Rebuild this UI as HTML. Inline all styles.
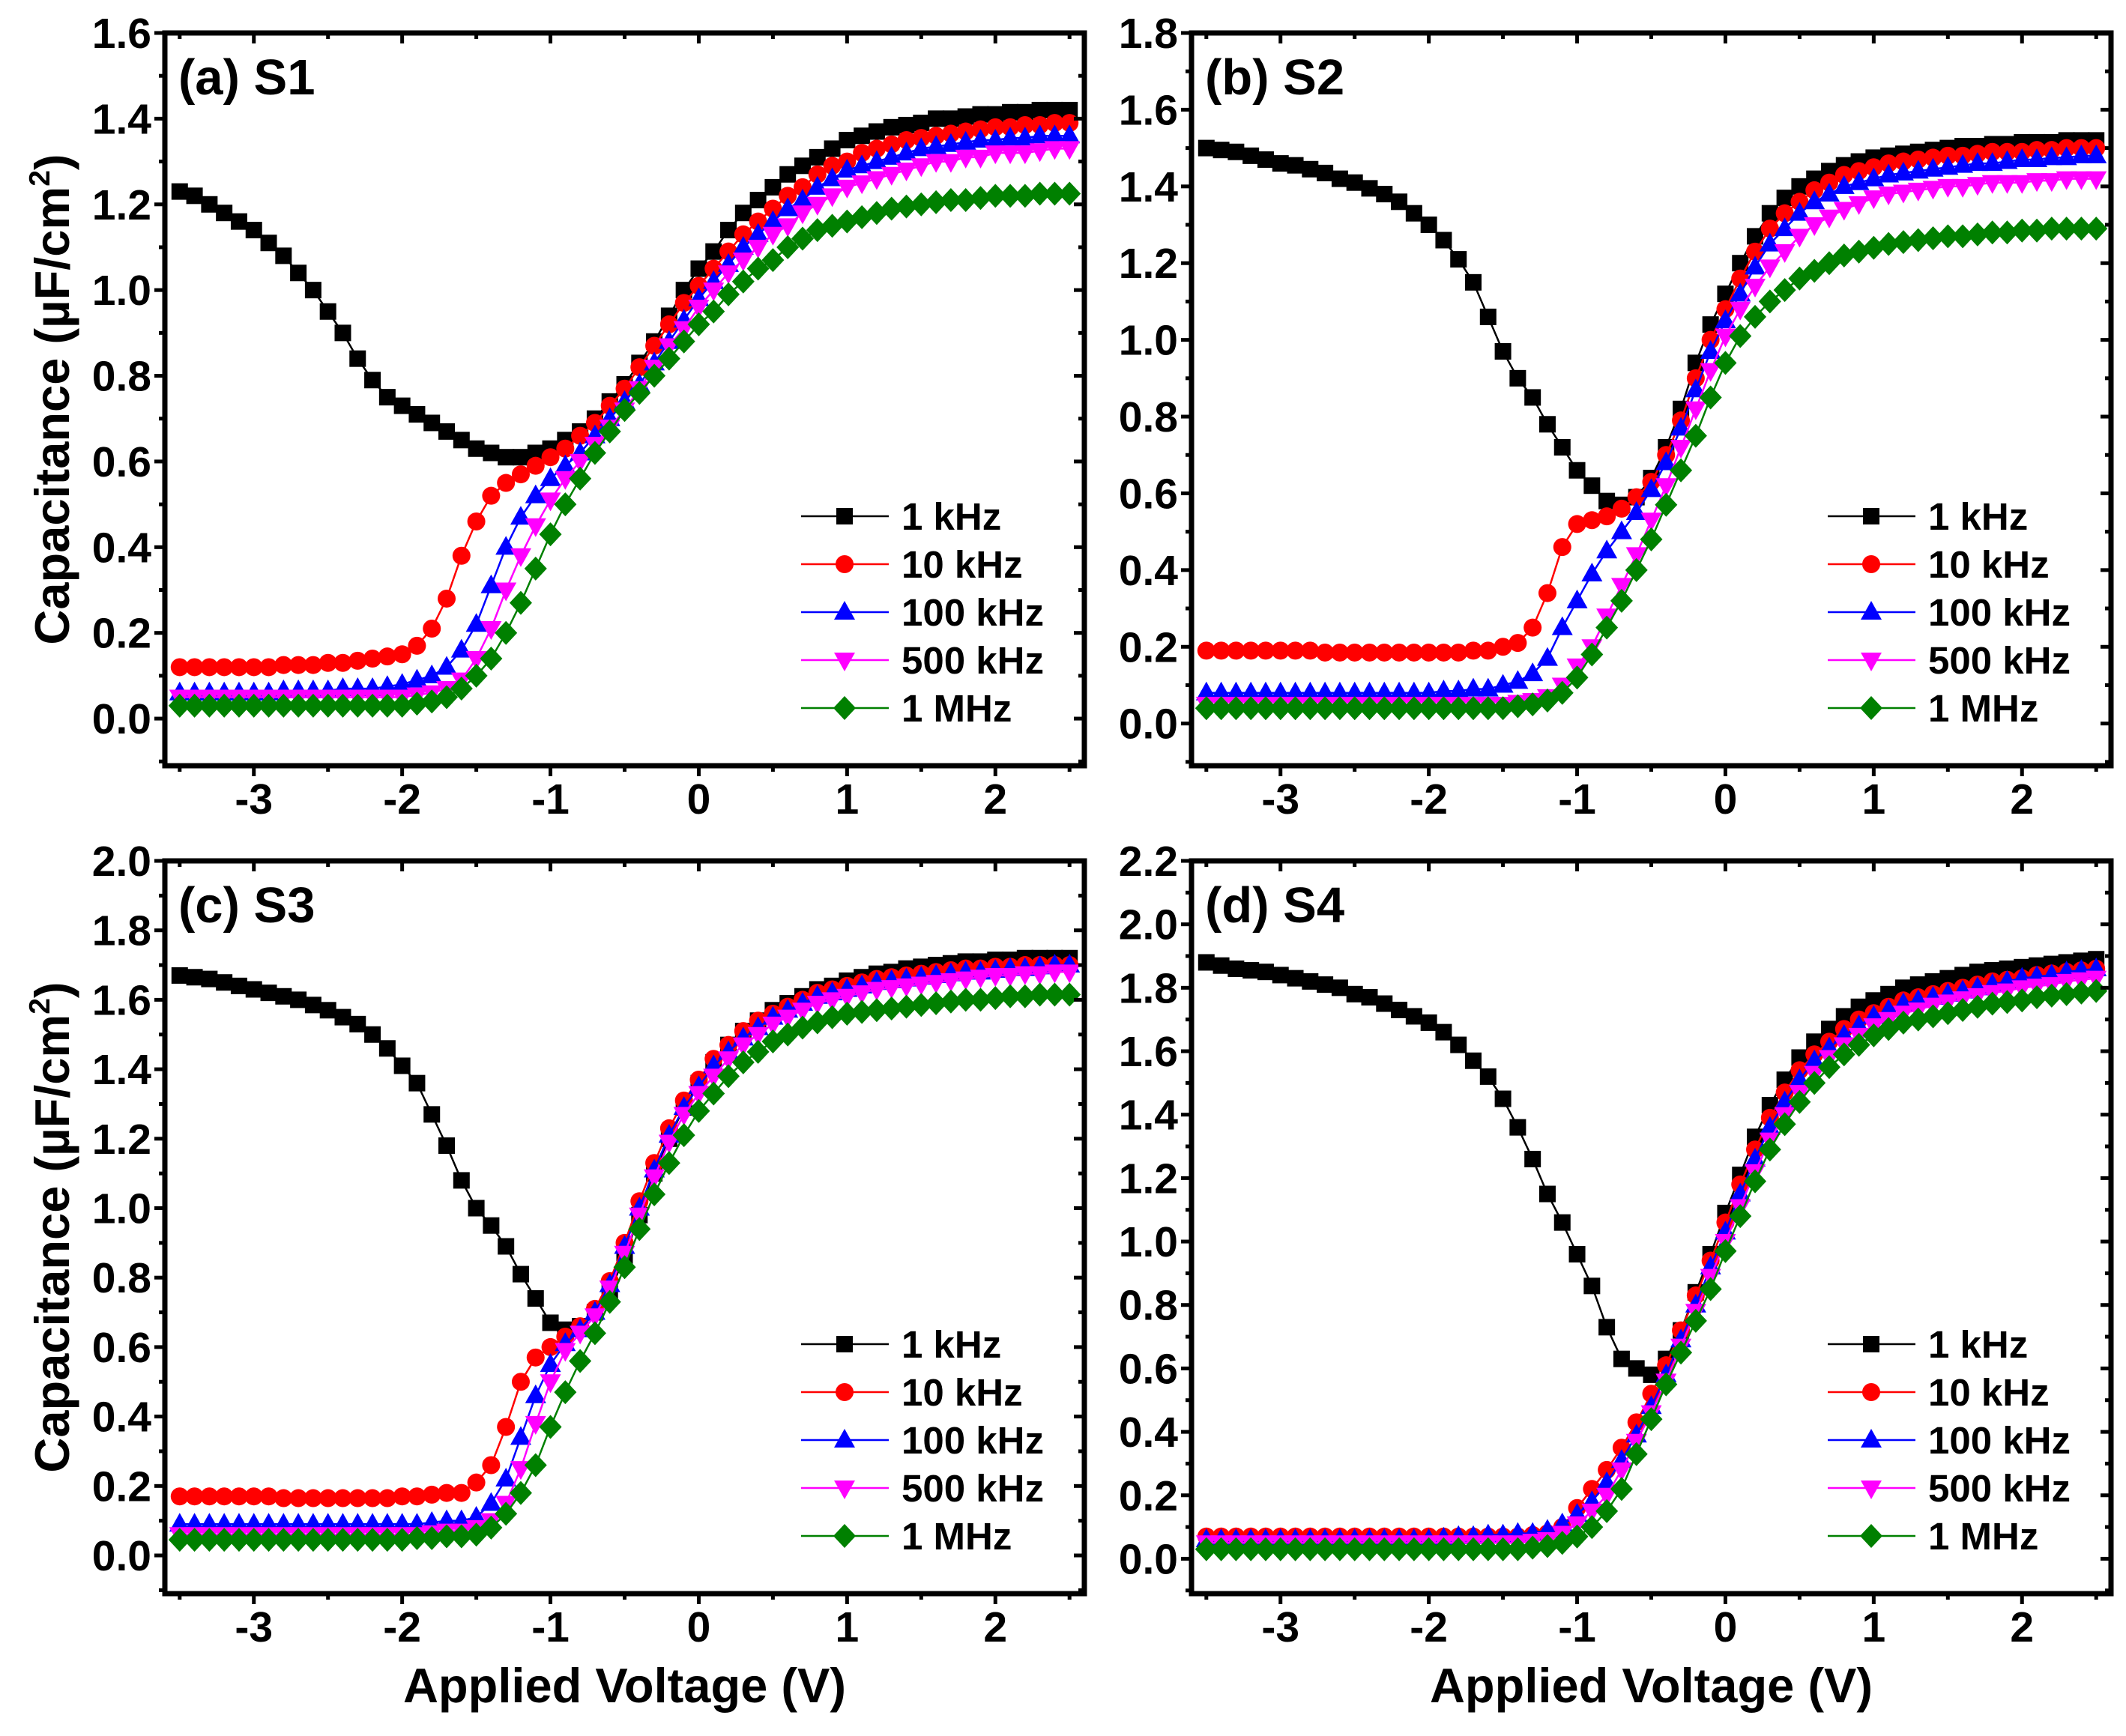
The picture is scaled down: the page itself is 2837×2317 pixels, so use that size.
<!DOCTYPE html>
<html><head><meta charset="utf-8"><style>
html,body{margin:0;padding:0;background:#fff;}
svg{display:block;}
text{font-family:"Liberation Sans",Arial,sans-serif;font-weight:bold;fill:#000;}
</style></head>
<body>
<svg id="chart" width="2837" height="2317" viewBox="0 0 2837 2317" xmlns="http://www.w3.org/2000/svg"></svg>
<script>
const voltages=[-3.5,-3.4,-3.3,-3.2,-3.1,-3.0,-2.9,-2.8,-2.7,-2.6,-2.5,-2.4,-2.3,-2.2,-2.1,-2.0,-1.9,-1.8,-1.7,-1.6,-1.5,-1.4,-1.3,-1.2,-1.1,-1.0,-0.9,-0.8,-0.7,-0.6,-0.5,-0.4,-0.3,-0.2,-0.1,0.0,0.1,0.2,0.3,0.4,0.5,0.6,0.7,0.8,0.9,1.0,1.1,1.2,1.3,1.4,1.5,1.6,1.7,1.8,1.9,2.0,2.1,2.2,2.3,2.4,2.5];
const seriesNames=["1 kHz","10 kHz","100 kHz","500 kHz","1 MHz"];
const xTicks=[-3,-2,-1,0,1,2];
const panelLabels=["(a) S1","(b) S2","(c) S3","(d) S4"];
const panelYMax=[1.6,1.8,2.0,2.2];

const a1k=[1.23,1.22,1.20,1.18,1.16,1.14,1.11,1.08,1.04,1.00,0.95,0.90,0.84,0.79,0.75,0.73,0.71,0.69,0.67,0.65,0.63,0.62,0.61,0.61,0.62,0.63,0.65,0.67,0.70,0.74,0.78,0.83,0.88,0.94,1.00,1.05,1.09,1.14,1.18,1.21,1.24,1.27,1.29,1.31,1.33,1.35,1.36,1.37,1.38,1.385,1.39,1.40,1.40,1.405,1.41,1.41,1.415,1.415,1.42,1.42,1.42];
const a10k=[0.12,0.12,0.12,0.12,0.12,0.12,0.12,0.125,0.125,0.125,0.13,0.13,0.135,0.14,0.145,0.15,0.17,0.21,0.28,0.38,0.46,0.52,0.55,0.57,0.59,0.61,0.63,0.66,0.69,0.73,0.77,0.82,0.87,0.92,0.97,1.01,1.05,1.09,1.13,1.16,1.19,1.22,1.24,1.27,1.29,1.30,1.32,1.33,1.34,1.35,1.355,1.36,1.365,1.37,1.375,1.38,1.38,1.385,1.385,1.39,1.39];
const a100k=[0.06,0.06,0.06,0.06,0.06,0.06,0.06,0.065,0.065,0.065,0.065,0.07,0.07,0.07,0.075,0.08,0.09,0.10,0.12,0.16,0.22,0.31,0.40,0.47,0.52,0.56,0.59,0.62,0.66,0.70,0.74,0.78,0.83,0.88,0.93,0.98,1.02,1.06,1.10,1.13,1.16,1.19,1.21,1.24,1.26,1.28,1.29,1.30,1.31,1.32,1.33,1.335,1.34,1.345,1.35,1.35,1.355,1.355,1.36,1.36,1.36];
const a500k=[0.05,0.05,0.05,0.05,0.05,0.05,0.05,0.05,0.05,0.05,0.05,0.05,0.05,0.05,0.05,0.05,0.055,0.06,0.07,0.09,0.14,0.21,0.30,0.38,0.45,0.51,0.56,0.60,0.64,0.68,0.72,0.77,0.82,0.87,0.91,0.96,1.00,1.04,1.07,1.10,1.13,1.15,1.18,1.20,1.22,1.24,1.25,1.26,1.27,1.28,1.29,1.30,1.30,1.31,1.31,1.32,1.32,1.32,1.325,1.33,1.33];
const a1M=[0.03,0.03,0.03,0.03,0.03,0.03,0.03,0.03,0.03,0.03,0.03,0.03,0.03,0.03,0.03,0.03,0.035,0.04,0.05,0.07,0.10,0.14,0.20,0.27,0.35,0.43,0.50,0.56,0.62,0.67,0.72,0.76,0.80,0.84,0.88,0.92,0.95,0.99,1.02,1.05,1.07,1.10,1.12,1.14,1.15,1.16,1.17,1.18,1.19,1.195,1.20,1.205,1.21,1.21,1.215,1.22,1.22,1.22,1.225,1.225,1.225];

const b1k=[1.50,1.495,1.49,1.48,1.47,1.46,1.455,1.445,1.435,1.42,1.41,1.395,1.38,1.36,1.33,1.30,1.26,1.21,1.15,1.06,0.97,0.90,0.85,0.78,0.72,0.66,0.62,0.58,0.57,0.59,0.64,0.72,0.82,0.94,1.04,1.12,1.20,1.27,1.33,1.37,1.40,1.42,1.44,1.455,1.465,1.475,1.48,1.485,1.49,1.495,1.50,1.505,1.505,1.51,1.51,1.515,1.515,1.515,1.52,1.52,1.52];
const b10k=[0.19,0.19,0.19,0.19,0.19,0.19,0.19,0.19,0.185,0.185,0.185,0.185,0.185,0.185,0.185,0.185,0.185,0.185,0.19,0.19,0.20,0.21,0.25,0.34,0.46,0.52,0.53,0.54,0.56,0.59,0.63,0.70,0.79,0.90,1.00,1.08,1.16,1.23,1.29,1.33,1.36,1.39,1.41,1.43,1.44,1.45,1.46,1.465,1.47,1.475,1.48,1.48,1.485,1.49,1.49,1.49,1.495,1.495,1.50,1.50,1.50];
const b100k=[0.08,0.08,0.08,0.08,0.08,0.08,0.08,0.08,0.08,0.08,0.08,0.08,0.08,0.08,0.08,0.08,0.085,0.085,0.09,0.09,0.10,0.11,0.13,0.17,0.25,0.32,0.39,0.45,0.50,0.55,0.61,0.68,0.77,0.87,0.97,1.05,1.12,1.19,1.25,1.29,1.33,1.36,1.38,1.40,1.41,1.42,1.43,1.435,1.44,1.445,1.45,1.455,1.46,1.46,1.465,1.47,1.47,1.475,1.475,1.48,1.48];
const b500k=[0.05,0.05,0.05,0.05,0.05,0.05,0.05,0.05,0.05,0.05,0.05,0.05,0.05,0.05,0.05,0.05,0.05,0.05,0.05,0.05,0.05,0.055,0.06,0.07,0.10,0.15,0.20,0.28,0.36,0.44,0.53,0.62,0.72,0.82,0.92,1.01,1.08,1.14,1.19,1.23,1.27,1.30,1.32,1.34,1.355,1.37,1.38,1.385,1.39,1.395,1.40,1.40,1.405,1.41,1.41,1.41,1.415,1.415,1.42,1.42,1.42];
const b1M=[0.04,0.04,0.04,0.04,0.04,0.04,0.04,0.04,0.04,0.04,0.04,0.04,0.04,0.04,0.04,0.04,0.04,0.04,0.04,0.04,0.04,0.045,0.05,0.06,0.08,0.12,0.18,0.25,0.32,0.40,0.48,0.57,0.66,0.75,0.85,0.94,1.01,1.06,1.10,1.13,1.16,1.18,1.20,1.22,1.23,1.24,1.25,1.255,1.26,1.265,1.27,1.27,1.275,1.28,1.28,1.285,1.285,1.29,1.29,1.29,1.29];

const c1k=[1.67,1.665,1.66,1.65,1.64,1.63,1.62,1.61,1.60,1.585,1.57,1.55,1.53,1.50,1.46,1.41,1.36,1.27,1.18,1.08,1.00,0.95,0.89,0.81,0.74,0.67,0.65,0.66,0.70,0.76,0.86,0.98,1.10,1.20,1.29,1.36,1.42,1.47,1.51,1.54,1.57,1.59,1.61,1.63,1.64,1.655,1.665,1.675,1.68,1.69,1.695,1.70,1.705,1.71,1.71,1.715,1.715,1.72,1.72,1.72,1.72];
const c10k=[0.17,0.17,0.17,0.17,0.17,0.17,0.17,0.165,0.165,0.165,0.165,0.165,0.165,0.165,0.165,0.17,0.17,0.175,0.18,0.18,0.21,0.26,0.37,0.50,0.57,0.60,0.63,0.66,0.71,0.79,0.90,1.02,1.13,1.23,1.31,1.37,1.43,1.47,1.51,1.54,1.56,1.58,1.60,1.62,1.63,1.64,1.65,1.66,1.665,1.67,1.675,1.68,1.685,1.69,1.69,1.695,1.695,1.70,1.70,1.70,1.70];
const c100k=[0.09,0.09,0.09,0.09,0.09,0.09,0.09,0.09,0.09,0.09,0.09,0.09,0.09,0.09,0.09,0.09,0.09,0.095,0.10,0.10,0.11,0.15,0.22,0.34,0.46,0.55,0.61,0.65,0.70,0.78,0.89,1.00,1.11,1.21,1.29,1.35,1.41,1.45,1.49,1.52,1.55,1.57,1.59,1.61,1.62,1.63,1.64,1.65,1.655,1.66,1.665,1.67,1.675,1.68,1.68,1.685,1.69,1.69,1.695,1.70,1.70];
const c500k=[0.06,0.06,0.06,0.06,0.06,0.06,0.06,0.06,0.06,0.06,0.06,0.06,0.06,0.06,0.06,0.06,0.06,0.065,0.07,0.07,0.08,0.10,0.15,0.25,0.38,0.50,0.59,0.64,0.69,0.77,0.87,0.98,1.09,1.19,1.27,1.33,1.38,1.43,1.47,1.50,1.53,1.55,1.57,1.59,1.60,1.61,1.62,1.63,1.635,1.64,1.645,1.65,1.655,1.66,1.665,1.67,1.67,1.675,1.675,1.68,1.68];
const c1M=[0.045,0.045,0.045,0.045,0.045,0.045,0.045,0.045,0.045,0.045,0.045,0.045,0.045,0.045,0.045,0.045,0.05,0.05,0.055,0.055,0.06,0.08,0.12,0.18,0.26,0.37,0.47,0.56,0.64,0.73,0.83,0.94,1.04,1.13,1.21,1.28,1.33,1.38,1.42,1.45,1.48,1.50,1.52,1.535,1.55,1.56,1.565,1.57,1.575,1.58,1.585,1.59,1.595,1.60,1.60,1.605,1.61,1.61,1.615,1.615,1.615];

const d1k=[1.88,1.87,1.86,1.855,1.85,1.84,1.83,1.82,1.81,1.80,1.78,1.77,1.75,1.73,1.71,1.69,1.66,1.62,1.57,1.52,1.45,1.36,1.26,1.15,1.06,0.96,0.86,0.73,0.63,0.60,0.58,0.63,0.72,0.84,0.96,1.09,1.21,1.33,1.43,1.51,1.58,1.63,1.67,1.71,1.74,1.76,1.78,1.80,1.81,1.82,1.83,1.84,1.85,1.855,1.86,1.865,1.87,1.875,1.88,1.885,1.89];
const d10k=[0.07,0.07,0.07,0.07,0.07,0.07,0.07,0.07,0.07,0.07,0.07,0.07,0.07,0.07,0.07,0.07,0.07,0.07,0.07,0.07,0.07,0.07,0.075,0.08,0.10,0.16,0.22,0.28,0.35,0.43,0.52,0.61,0.72,0.83,0.94,1.06,1.18,1.29,1.39,1.47,1.54,1.59,1.63,1.67,1.70,1.72,1.74,1.76,1.77,1.78,1.79,1.80,1.81,1.82,1.825,1.83,1.84,1.845,1.85,1.855,1.86];
const d100k=[0.06,0.06,0.06,0.06,0.06,0.06,0.06,0.06,0.06,0.06,0.06,0.06,0.06,0.06,0.06,0.06,0.065,0.07,0.07,0.075,0.075,0.08,0.08,0.09,0.11,0.14,0.18,0.24,0.31,0.39,0.48,0.58,0.69,0.80,0.92,1.03,1.15,1.26,1.36,1.44,1.51,1.57,1.61,1.65,1.68,1.71,1.73,1.75,1.76,1.77,1.78,1.79,1.80,1.81,1.82,1.83,1.835,1.84,1.85,1.855,1.86];
const d500k=[0.05,0.05,0.05,0.05,0.05,0.05,0.05,0.05,0.05,0.05,0.05,0.05,0.05,0.05,0.05,0.05,0.05,0.05,0.05,0.05,0.05,0.05,0.055,0.06,0.08,0.11,0.15,0.20,0.28,0.37,0.46,0.56,0.67,0.78,0.89,1.00,1.11,1.22,1.32,1.40,1.47,1.53,1.58,1.62,1.65,1.68,1.70,1.72,1.73,1.745,1.755,1.765,1.775,1.785,1.79,1.80,1.805,1.81,1.82,1.825,1.83];
const d1M=[0.03,0.03,0.03,0.03,0.03,0.03,0.03,0.03,0.03,0.03,0.03,0.03,0.03,0.03,0.03,0.03,0.03,0.03,0.03,0.03,0.03,0.03,0.035,0.04,0.05,0.07,0.10,0.15,0.22,0.33,0.44,0.55,0.65,0.75,0.85,0.97,1.08,1.19,1.29,1.37,1.44,1.50,1.55,1.59,1.62,1.65,1.67,1.69,1.70,1.71,1.72,1.73,1.74,1.75,1.755,1.76,1.77,1.775,1.78,1.785,1.79];

const panelSeries=[[a1k,a10k,a100k,a500k,a1M],[b1k,b10k,b100k,b500k,b1M],[c1k,c10k,c100k,c500k,c1M],[d1k,d10k,d100k,d500k,d1M]];

const NS="http://www.w3.org/2000/svg";
const svg=document.getElementById('chart');
const colors=["#000000","#ff0000","#0000ff","#ff00ff","#008000"];
const geoms=[
 {L:220,R:1447,T:44,B:1022},
 {L:1590,R:2817,T:44,B:1022},
 {L:220,R:1447,T:1149,B:2127},
 {L:1590,R:2817,T:1149,B:2127}
];
const XMIN=-3.6,XMAX=2.6,YMIN=-0.11;
function mk(tag,attrs,parent){const e=document.createElementNS(NS,tag);for(const k in attrs)e.setAttribute(k,attrs[k]);(parent||svg).appendChild(e);return e;}
function marker(g,kind,cx,cy,col){
  let e;
  if(kind===0){e=mk('rect',{x:cx-11,y:cy-11,width:22,height:22,fill:col},g);}
  else if(kind===1){e=mk('circle',{cx:cx,cy:cy,r:12,fill:col},g);}
  else if(kind===2){e=mk('polygon',{points:`${cx},${cy-15} ${cx+14},${cy+10} ${cx-14},${cy+10}`,fill:col},g);}
  else if(kind===3){e=mk('polygon',{points:`${cx},${cy+15} ${cx+14},${cy-10} ${cx-14},${cy-10}`,fill:col},g);}
  else {e=mk('polygon',{points:`${cx},${cy-16} ${cx+15},${cy} ${cx},${cy+16} ${cx-15},${cy}`,fill:col},g);}
  return e;
}
geoms.forEach((G,p)=>{
  const ymax=panelYMax[p];
  const xs=v=>G.L+(v-XMIN)/(XMAX-XMIN)*(G.R-G.L);
  const ys=v=>G.B-(v-YMIN)/(ymax-YMIN)*(G.B-G.T);
  const pg=mk('g',{});
  
  
  const cp=mk('clipPath',{id:'clip'+p},pg);
  mk('rect',{x:G.L,y:G.T,width:G.R-G.L,height:G.B-G.T},cp);
  const sg=mk('g',{'clip-path':`url(#clip${p})`},pg);
  panelSeries[p].forEach((arr,si)=>{
    const g=mk('g',{},sg);
    
    
    const pts=arr.map((v,i)=>xs(voltages[i]).toFixed(1)+','+ys(v).toFixed(1)).join(' ');
    mk('polyline',{points:pts,fill:'none',stroke:colors[si],'stroke-width':2.5},g);
    arr.forEach((v,i)=>{const m=marker(g,si,xs(voltages[i]),ys(v),colors[si]);
      
      });
  });
  const fr=mk('rect',{x:G.L,y:G.T,width:G.R-G.L,height:G.B-G.T,fill:'none',stroke:'#000','stroke-width':7},pg);
  
  
  for(let v=-3.5;v<=2.51;v+=0.5){
    const x=xs(v);const major=Math.abs(v-Math.round(v))<1e-6;const len=major?14:8;
    mk('line',{x1:x,y1:G.B,x2:x,y2:G.B+len,stroke:'#000','stroke-width':5},pg);
    mk('line',{x1:x,y1:G.T,x2:x,y2:G.T+len,stroke:'#000','stroke-width':5},pg);
  }
  xTicks.forEach(v=>{const t=mk('text',{x:xs(v),y:G.B+64,'text-anchor':'middle','font-size':57},pg);t.textContent=String(v);
    
    });
  for(let k=-1;k<=Math.round(ymax*10);k++){
    const v=k/10;const y=ys(v);const major=k%2===0;const len=major?14:8;
    mk('line',{x1:G.L,y1:y,x2:G.L-len,y2:y,stroke:'#000','stroke-width':5},pg);
    mk('line',{x1:G.R,y1:y,x2:G.R-len,y2:y,stroke:'#000','stroke-width':5},pg);
    if(major&&k>=0){const t=mk('text',{x:G.L-18,y:y+20,'text-anchor':'end','font-size':57},pg);t.textContent=v.toFixed(1);
      
      }
  }
  const pl=mk('text',{x:G.L+18,y:G.T+82,'font-size':67},pg);pl.textContent=panelLabels[p];
  
  
  const lg=mk('g',{},pg);
  
  
  seriesNames.forEach((nm,si)=>{
    const y=G.T+645+si*64;
    const eg=mk('g',{},lg);
    
    
    mk('line',{x1:G.L+849,y1:y,x2:G.L+966,y2:y,stroke:colors[si],'stroke-width':2.5},eg);
    marker(eg,si,G.L+907,y,colors[si]);
    const t=mk('text',{x:G.L+983,y:y+18,'font-size':51},eg);t.textContent=nm;
  });
  if(p%2===0){
    const cy=(G.T+G.B)/2;
    const t=mk('text',{x:0,y:0,'text-anchor':'middle','font-size':65,transform:`translate(92,${cy}) rotate(-90)`},pg);
    
    
    t.appendChild(document.createTextNode('Capacitance (\u00B5F/cm'));
    const s=mk('tspan',{'font-size':39,dy:-26},t);s.textContent='2';
    const s2=mk('tspan',{dy:26},t);s2.textContent=')';
  }
  if(p>=2){
    const t=mk('text',{x:(G.L+G.R)/2,y:2272,'text-anchor':'middle','font-size':65},pg);t.textContent='Applied Voltage (V)';
    
    
  }
});
</script>
</body></html>
